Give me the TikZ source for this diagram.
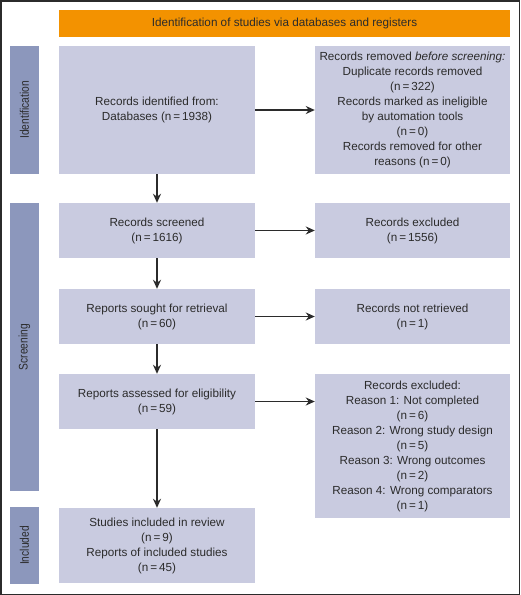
\documentclass[tikz,border=0pt]{standalone}
\usepackage{fontspec}
\setmainfont{Liberation Sans}
\usetikzlibrary{arrows.meta}

\definecolor{boxfill}{HTML}{C9CBE0}
\definecolor{stagefill}{HTML}{8C97BC}
\definecolor{headfill}{HTML}{F39200}
\definecolor{ink}{HTML}{2B2B2B}

\newcommand{\stagetext}[1]{\scalebox{0.82}[1]{#1}}

\begin{document}
\begin{tikzpicture}[x=1pt,y=-1pt,
  every node/.style={font=\fontsize{11.7}{15}\selectfont,text=ink,align=center,inner sep=0pt},
  flowbox/.style={fill=boxfill,minimum width=196pt},
  stagebar/.style={fill=stagefill,minimum width=29pt,rotate=90,font=\fontsize{12.5}{14}\selectfont},
  flowarrow/.style={draw=ink,line width=1.6pt,-{Stealth[length=9pt,width=8pt]}}]

\useasboundingbox (0,0) rectangle (520,595);
\draw[ink,line width=1.5pt] (0.75,0.75) rectangle (519.25,594.25);

% header
\node[fill=headfill,minimum width=451pt,minimum height=27pt] (head) at (284.5,23.5)
  {Identification of studies via databases and registers};

% stages
\node[stagebar,minimum width=128pt,minimum height=29pt] (identbar) at (24.5,110) {\stagetext{Identification}};
\node[stagebar,minimum width=288pt,minimum height=29pt] (screenbar) at (24.5,347) {\stagetext{Screening}};
\node[stagebar,minimum width=77pt,minimum height=29pt] (inclbar) at (24.5,545.5) {\stagetext{Included}};

% left column
\node[flowbox,minimum height=128pt] (recid) at (157,110)
  {Records identified from:\\Databases (n\,=\,1938)};
\node[flowbox,minimum height=55pt] (screened) at (157,230.5)
  {Records screened\\(n\,=\,1616)};
\node[flowbox,minimum height=55pt] (sought) at (157,316.5)
  {Reports sought for retrieval\\(n\,=\,60)};
\node[flowbox,minimum height=55pt] (assessed) at (157,401.5)
  {Reports assessed for eligibility\\(n\,=\,59)};
\node[flowbox,minimum height=75pt] (included) at (157,545.5)
  {Studies included in review\\(n\,=\,9)\\Reports of included studies\\(n\,=\,45)};

% right column
\node[flowbox,minimum width=195pt,minimum height=128pt] (removed) at (412.5,110)
  {Records removed \textit{before screening:}\\Duplicate records removed\\(n\,=\,322)\\
   Records marked as ineligible\\by automation tools\\(n\,=\,0)\\
   Records removed for other\\reasons (n\,=\,0)};
\node[flowbox,minimum width=195pt,minimum height=55pt] (excl) at (412.5,230.5)
  {Records excluded\\(n\,=\,1556)};
\node[flowbox,minimum width=195pt,minimum height=55pt] (notret) at (412.5,316.5)
  {Records not retrieved\\(n\,=\,1)};
\node[flowbox,minimum width=195pt,minimum height=144pt] (reasons) at (412.5,446)
  {Records excluded:\\Reason 1: Not completed\\(n\,=\,6)\\Reason 2: Wrong study design\\(n\,=\,5)\\
   Reason 3: Wrong outcomes\\(n\,=\,2)\\Reason 4: Wrong comparators\\(n\,=\,1)};

% arrows
\draw[flowarrow] (recid) -- (screened);
\draw[flowarrow] (screened) -- (sought);
\draw[flowarrow] (sought) -- (assessed);
\draw[flowarrow] (assessed) -- (included);
\draw[flowarrow] (recid) -- (removed);
\draw[flowarrow] (screened) -- (excl);
\draw[flowarrow] (sought) -- (notret);
\draw[flowarrow] (assessed.east) -- (reasons.west |- assessed.east);

\end{tikzpicture}
\end{document}
